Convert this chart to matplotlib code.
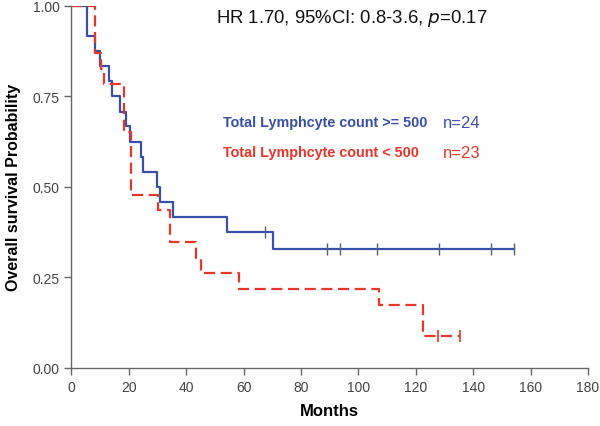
import matplotlib
matplotlib.use('Agg')
import matplotlib.pyplot as plt
import numpy as np

# Kaplan-Meier steps (months, survival)
high_times = [0, 5.3, 8.2, 10.0, 13.2, 14.0, 16.9, 19.0, 20.4, 24.1, 25.1, 29.7, 30.9, 35.5, 54.1, 70.3, 154.2]
high_surv = [1.0, 0.917, 0.875, 0.833, 0.792, 0.75, 0.708, 0.667, 0.625, 0.583, 0.542, 0.5, 0.458, 0.417, 0.375, 0.328, 0.328]
high_censor = [67.5, 89.2, 93.6, 106.4, 128.2, 146.2, 154.2]

low_times = [0, 8.2, 10.2, 11.5, 18.3, 20.6, 30.3, 34.3, 43.4, 45.0, 58.4, 107.3, 122.4, 135.4]
low_surv = [1.0, 0.870, 0.826, 0.783, 0.652, 0.478, 0.435, 0.348, 0.304, 0.261, 0.217, 0.174, 0.087, 0.087]
low_censor = [127.8, 135.4]

x_ticks = [0, 20, 40, 60, 80, 100, 120, 140, 160, 180]
y_ticks = [0.0, 0.25, 0.5, 0.75, 1.0]

BLUE = '#3a4fa8'
RED = '#e8362c'

plt.rcParams['font.family'] = ['Liberation Sans', 'DejaVu Sans']


def surv_at(times, surv, t):
    idx = np.searchsorted(times, t, side='right') - 1
    return np.array(surv)[idx]


fig = plt.figure(figsize=(6, 4.27), dpi=100)
ax = fig.add_axes([0.119, 0.136, 0.861, 0.848])

ax.step(high_times, high_surv, where='post', color=BLUE, lw=1.6)
ax.plot(high_censor, surv_at(high_times, high_surv, high_censor), ls='none',
        marker='|', ms=8, mew=1, color='#55607f')

ax.step(low_times, low_surv, where='post', color=RED, lw=1.6, dashes=(5, 2.5))
ax.plot(low_censor, surv_at(low_times, low_surv, low_censor), ls='none',
        marker='|', ms=8, mew=1.2, color=RED)

ax.set_xlim(0, 180)
ax.set_ylim(0, 1)
ax.set_xticks(x_ticks)
ax.set_yticks(y_ticks)
ax.set_yticklabels([f'{v:.2f}' for v in y_ticks])
for s in ['top', 'right']:
    ax.spines[s].set_visible(False)
for s in ['left', 'bottom']:
    ax.spines[s].set_color('#666666')
    ax.spines[s].set_linewidth(1)
    ax.spines[s].set_clip_on(False)
ax.tick_params(direction='out', length=5, width=1, color='#666666',
               labelcolor='#444444', labelsize=10)

ax.set_xlabel('Months', fontsize=12, fontweight='bold', labelpad=7)
ax.set_ylabel('Overall survival Probability', fontsize=11.5, fontweight='bold', labelpad=8)

ax.text(0.279, 0.968, 'HR 1.70, 95%CI: 0.8-3.6, $p$=0.17', transform=ax.transAxes,
        fontsize=13.3, va='center', ha='left', color='#111111')

ax.text(0.293, 0.678, 'Total Lymphcyte count >= 500', transform=ax.transAxes,
        fontsize=10.4, fontweight='bold', color=BLUE, va='center')
ax.text(0.719, 0.678, 'n=24', transform=ax.transAxes, fontsize=12, color=BLUE, va='center')
ax.text(0.293, 0.595, 'Total Lymphcyte count < 500', transform=ax.transAxes,
        fontsize=10.4, fontweight='bold', color=RED, va='center')
ax.text(0.719, 0.595, 'n=23', transform=ax.transAxes, fontsize=12, color=RED, va='center')

fig.savefig('out.png', dpi=100)
